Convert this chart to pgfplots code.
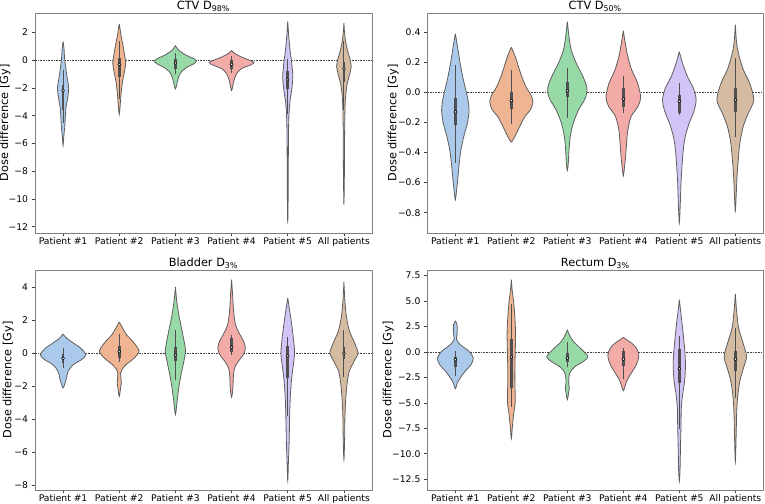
\documentclass[border=0pt]{standalone}
\usepackage{pgfplots}
\pgfplotsset{compat=1.18}
\usepackage{fontspec}
\setmainfont{DejaVu Sans}

\definecolor{cA}{HTML}{ABC9EA}
\definecolor{cB}{HTML}{EFB592}
\definecolor{cC}{HTML}{98DAA7}
\definecolor{cD}{HTML}{F3ABA8}
\definecolor{cE}{HTML}{D3C4F7}
\definecolor{cF}{HTML}{D6BBA3}
\definecolor{edge}{HTML}{5E5E5E}
\definecolor{inner}{HTML}{4F4F4F}

\pgfplotsset{
  vio/.style={
    scale only axis, anchor=south west, height=165pt,
    xmin=-0.5, xmax=5.5, xtick={0,1,2,3,4,5},
    xticklabels={Patient \#1, Patient \#2, Patient \#3, Patient \#4, Patient \#5, All patients},
    tick pos=left, tick align=outside, major tick length=2.5pt,
    axis line style={black!50, line width=0.6pt},
    tick style={black!75, line width=0.6pt},
    ticklabel style={font=\fontsize{6.9}{8}\selectfont},
    yticklabel style={xshift=0.8pt},
    xticklabel style={yshift=2.5pt},
    every axis title shift=0pt,
    title style={font=\fontsize{8.5}{10}\selectfont, at={(axis description cs:0.5,1)}, anchor=south, inner sep=1pt},
    ylabel={Dose difference [Gy]},
    ylabel style={font=\fontsize{8.5}{10}\selectfont},
  },
  vedge/.style={draw=edge, line width=0.6pt, smooth, tension=0.5},
  zeroline/.style={black!75, line width=0.4pt, dash pattern=on 1.2pt off 0.8pt},
}

% #1 centre, #2 fill colour, #3 profile "y/halfwidth" from top to bottom,
% #4 low whisker, #5 q1, #6 median, #7 q3, #8 high whisker
\newcommand{\vio}[8]{%
  \gdef\vR{}\gdef\vL{}%
  \foreach \yy/\ww [count=\i] in {#3} {%
    \pgfmathsetmacro\xr{#1+\ww}\pgfmathsetmacro\xl{#1-\ww}%
    \xdef\vR{\vR (\xr,\yy)}%
    \ifnum\i=1 \xdef\vL{(\xl,\yy) \vL}\else
      \ifdim\ww pt>0pt \xdef\vL{(\xl,\yy) \vL}\fi
    \fi
  }%
  \edef\temp{\noexpand\addplot[vedge, fill=#2] coordinates {\vR\space\vL};}\temp
  \addplot[inner, line width=0.7pt] coordinates {(#1,#4) (#1,#8)};
  \addplot[inner, line width=2.1pt] coordinates {(#1,#5) (#1,#7)};
  \addplot[only marks, mark=*, mark size=1.1pt, mark options={fill=white, draw=none}] coordinates {(#1,#6)};
}

\begin{document}
\begin{tikzpicture}
\path[use as bounding box] (0,0) rectangle (573.75pt,378pt);

% ---- CTV D98
\begin{axis}[vio, at={(26.25pt,203.25pt)}, width=252.75pt,
  ymin=-12.45, ymax=3.4,
  ytick={-12,-10,-8,-6,-4,-2,0,2}, yticklabels={−12,−10,−8,−6,−4,−2,0,2},
  title={CTV D\textsubscript{98\%}},
  ylabel style={at={([xshift=-22.5pt]axis description cs:0,0.5)}, anchor=center}]
\addplot[zeroline] coordinates {(-0.5,0) (5.5,0)};
\vio{0}{cA}{1.35/0, 0.9/0.015, 0/0.03, -1.2/0.07, -2.0/0.10, -2.75/0.08, -3.3/0.055, -4.05/0.04, -4.8/0.03, -5.5/0.012, -6.15/0}{-4.5}{-3.6}{-2.2}{-1.8}{-0.7}
\vio{1}{cB}{2.62/0, 1.7/0.036, 1.0/0.07, 0.26/0.10, -0.2/0.115, -0.8/0.095, -1.4/0.065, -2.1/0.04, -2.85/0.024, -3.9/0}{-2.8}{-1.2}{-0.3}{0.15}{1.4}
\vio{2}{cC}{1.06/0, 0.75/0.05, 0.38/0.18, 0.14/0.31, -0.05/0.375, -0.26/0.33, -0.5/0.21, -0.82/0.11, -1.18/0.06, -1.54/0.036, -2.07/0}{-1.0}{-0.65}{-0.2}{0.05}{0.5}
\vio{3}{cD}{0.7/0, 0.5/0.05, 0.22/0.18, -0.02/0.33, -0.17/0.40, -0.36/0.33, -0.6/0.18, -0.94/0.095, -1.3/0.055, -1.66/0.03, -2.19/0}{-0.9}{-0.6}{-0.3}{0.0}{0.3}
\vio{4}{cE}{2.79/0, 1.7/0.018, 0.75/0.04, -0.2/0.07, -1.2/0.09, -2.14/0.07, -3.1/0.036, -4.3/0.018, -6.0/0.012, -8.4/0.009, -10.3/0.006, -11.75/0}{-3.9}{-2.1}{-1.42}{-0.8}{0.05}
\vio{5}{cF}{2.67/0, 1.95/0.012, 1.2/0.036, 0.5/0.077, -0.1/0.12, -0.45/0.13, -1.06/0.10, -1.66/0.06, -2.6/0.03, -3.6/0.018, -5.5/0.012, -7.9/0.009, -10.4/0}{-3.6}{-1.6}{-0.6}{-0.1}{1.4}
\end{axis}

% ---- CTV D50
\begin{axis}[vio, at={(320.5pt,203.25pt)}, width=252pt,
  ymin=-0.935, ymax=0.527,
  ytick={-0.8,-0.6,-0.4,-0.2,0,0.2,0.4}, yticklabels={−0.8,−0.6,−0.4,−0.2,0.0,0.2,0.4},
  title={CTV D\textsubscript{50\%}},
  ylabel style={at={([xshift=-25.5pt]axis description cs:0,0.5)}, anchor=center}]
\addplot[zeroline] coordinates {(-0.5,0) (5.5,0)};
\vio{0}{cA}{0.39/0, 0.30/0.04, 0.19/0.087, 0.08/0.145, -0.03/0.215, -0.117/0.245, -0.206/0.215, -0.295/0.15, -0.383/0.10, -0.47/0.07, -0.56/0.047, -0.65/0.023, -0.715/0}{-0.47}{-0.22}{-0.13}{-0.04}{0.18}
\vio{1}{cB}{0.30/0, 0.237/0.07, 0.17/0.128, 0.104/0.186, 0.038/0.26, -0.018/0.35, -0.062/0.385, -0.117/0.34, -0.16/0.245, -0.217/0.163, -0.272/0.093, -0.305/0.047, -0.33/0}{-0.21}{-0.11}{-0.055}{0.0}{0.15}
\vio{2}{cC}{0.47/0, 0.37/0.03, 0.28/0.07, 0.19/0.163, 0.104/0.28, 0.027/0.35, -0.04/0.32, -0.117/0.20, -0.206/0.105, -0.295/0.052, -0.383/0.03, -0.47/0.017, -0.52/0}{-0.17}{-0.03}{0.01}{0.07}{0.16}
\vio{3}{cD}{0.41/0, 0.326/0.035, 0.237/0.08, 0.148/0.15, 0.06/0.256, -0.033/0.31, -0.095/0.26, -0.16/0.14, -0.25/0.08, -0.34/0.058, -0.43/0.04, -0.49/0.023, -0.556/0}{-0.14}{-0.1}{-0.045}{0.03}{0.11}
\vio{4}{cE}{0.27/0, 0.19/0.06, 0.104/0.145, 0.027/0.25, -0.05/0.30, -0.128/0.26, -0.206/0.175, -0.295/0.105, -0.383/0.07, -0.494/0.047, -0.6/0.03, -0.74/0.017, -0.87/0}{-0.15}{-0.14}{-0.06}{-0.02}{0.06}
\vio{5}{cF}{0.45/0, 0.326/0.023, 0.237/0.07, 0.148/0.145, 0.06/0.256, -0.05/0.33, -0.14/0.23, -0.228/0.14, -0.34/0.08, -0.45/0.052, -0.56/0.03, -0.67/0.017, -0.79/0}{-0.3}{-0.13}{-0.05}{0.03}{0.23}
\end{axis}

% ---- Bladder D3
\begin{axis}[vio, at={(26.25pt,10.5pt)}, width=252.75pt,
  ymin=-8.3, ymax=5.06,
  ytick={-8,-6,-4,-2,0,2,4}, yticklabels={−8,−6,−4,−2,0,2,4},
  title={Bladder D\textsubscript{3\%}},
  ylabel style={at={([xshift=-20pt]axis description cs:0,0.5)}, anchor=center}]
\addplot[zeroline] coordinates {(-0.5,0) (5.5,0)};
\vio{0}{cA}{1.17/0, 0.93/0.06, 0.63/0.18, 0.32/0.31, -0.08/0.405, -0.38/0.33, -0.69/0.18, -1.09/0.09, -1.5/0.06, -1.8/0.036, -2.1/0}{-0.9}{-0.6}{-0.3}{-0.05}{0.3}
\vio{1}{cB}{1.9/0, 1.54/0.06, 1.13/0.13, 0.73/0.24, 0.32/0.33, 0.08/0.35, -0.28/0.27, -0.69/0.12, -0.99/0.048, -1.2/0.024, -1.5/0.03, -1.8/0.036, -2.1/0.024, -2.61/0}{-0.5}{-0.3}{0.1}{0.45}{1.15}
\vio{2}{cC}{4.03/0, 3.16/0.024, 2.35/0.06, 1.54/0.107, 0.73/0.155, 0.12/0.18, -0.49/0.15, -1.3/0.10, -2.1/0.06, -2.9/0.03, -3.72/0}{-1.6}{-0.45}{-0.1}{0.4}{1.4}
\vio{3}{cD}{4.47/0, 3.56/0.018, 2.55/0.036, 1.74/0.07, 1.13/0.15, 0.73/0.215, 0.32/0.245, -0.08/0.21, -0.49/0.12, -0.89/0.054, -1.5/0.03, -2.1/0.024, -2.67/0}{-0.1}{0.05}{0.36}{0.9}{1.1}
\vio{4}{cE}{3.36/0, 2.55/0.036, 1.74/0.07, 0.93/0.10, 0.02/0.122, -0.69/0.10, -1.5/0.07, -2.5/0.048, -3.5/0.036, -4.5/0.03, -5.5/0.024, -6.6/0.012, -7.73/0}{-3.8}{-1.5}{-0.15}{0.45}{1.0}
\vio{5}{cF}{4.33/0, 3.16/0.018, 2.15/0.048, 1.34/0.10, 0.63/0.19, 0.02/0.25, -0.49/0.18, -1.09/0.095, -1.9/0.054, -2.9/0.03, -3.9/0.018, -5.3/0.012, -6.46/0}{-1.45}{-0.35}{0.0}{0.4}{1.4}
\end{axis}

% ---- Rectum D3
\begin{axis}[vio, at={(320.5pt,10.5pt)}, width=252pt,
  ymin=-13.55, ymax=8.05,
  ytick={-12.5,-10,-7.5,-5,-2.5,0,2.5,5,7.5}, yticklabels={−12.5,−10.0,−7.5,−5.0,−2.5,0.0,2.5,5.0,7.5},
  title={Rectum D\textsubscript{3\%}},
  ylabel style={at={([xshift=-29.3pt]axis description cs:0,0.5)}, anchor=center}]
\addplot[zeroline] coordinates {(-0.5,0) (5.5,0)};
\vio{0}{cA}{3.07/0, 2.68/0.03, 2.19/0.035, 1.7/0.03, 1.21/0.023, 0.72/0.087, 0.07/0.244, -0.59/0.32, -1.24/0.28, -1.9/0.174, -2.55/0.087, -3.04/0.035, -3.6/0}{-2.4}{-1.5}{-0.75}{-0.5}{0.1}
\vio{1}{cB}{7.1/0, 5.95/0.017, 4.97/0.04, 3.34/0.064, 1.7/0.076, 0.07/0.07, -1.57/0.064, -3.2/0.064, -4.84/0.07, -6.15/0.04, -7.46/0.017, -8.5/0}{-5.4}{-3.5}{-0.5}{1.3}{4.7}
\vio{2}{cC}{2.19/0, 1.7/0.035, 1.05/0.105, 0.39/0.23, -0.2/0.337, -0.52/0.366, -0.92/0.29, -1.4/0.145, -1.9/0.058, -2.39/0.03, -3.04/0.023, -3.5/0.035, -4.0/0.023, -4.68/0}{-1.5}{-1.0}{-0.6}{-0.1}{1.0}
\vio{3}{cD}{1.44/0, 1.21/0.058, 0.88/0.145, 0.39/0.233, -0.26/0.276, -0.92/0.256, -1.57/0.20, -2.2/0.128, -2.88/0.058, -3.37/0.03, -3.8/0}{-2.7}{-1.4}{-0.7}{0.1}{0.4}
\vio{4}{cE}{5.14/0, 3.66/0.03, 2.03/0.064, 0.39/0.093, -1.24/0.11, -2.88/0.093, -4.19/0.058, -5.5/0.035, -7.13/0.03, -8.77/0.023, -10.4/0.017, -11.7/0.012, -12.7/0}{-7.6}{-3.0}{-1.65}{0.3}{1.6}
\vio{5}{cF}{5.7/0, 3.99/0.023, 2.36/0.058, 1.05/0.128, -0.43/0.20, -1.57/0.145, -2.88/0.08, -4.5/0.04, -6.15/0.023, -8.1/0.015, -10.8/0}{-4.5}{-1.9}{-0.7}{0.1}{2.4}
\end{axis}
\end{tikzpicture}
\end{document}
